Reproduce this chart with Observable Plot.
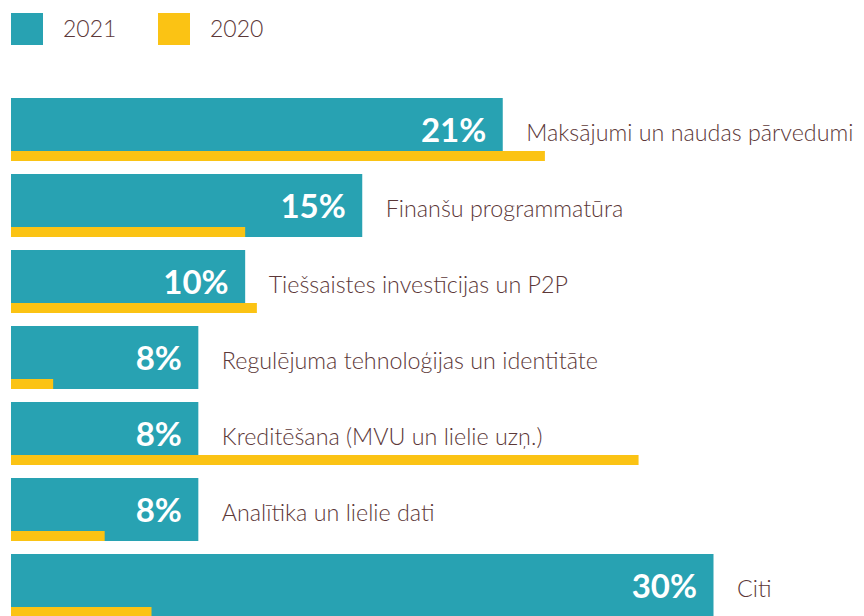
<!DOCTYPE html>
<html>
<head>
<meta charset="utf-8">
<script src="https://cdn.jsdelivr.net/npm/d3@7"></script>
<script src="https://cdn.jsdelivr.net/npm/@observablehq/plot@0.6"></script>
<style>
  html, body { margin: 0; padding: 0; background: #fff; overflow: hidden; }
  #legend { position: relative; height: 60px; width: 864px; font-family: Lato, "Open Sans", sans-serif; }
  .sw { position: absolute; top: 13px; width: 32px; height: 32px; }
  .lt { position: absolute; top: 14px; font-size: 23px; line-height: 28px; color: #5c3838; font-weight: 300; }
</style>
</head>
<body>
<div id="legend"></div>
<div id="chart"></div>
<script>
const categories = [
  "Maksājumi un naudas pārvedumi",
  "Finanšu programmatūra",
  "Tiešsaistes investīcijas un P2P",
  "Regulējuma tehnoloģijas un identitāte",
  "Kreditēšana (MVU un lielie uzņ.)",
  "Analītika un lielie dati",
  "Citi"
];
const values2021 = [21, 15, 10, 8, 8, 8, 30];
const values2020 = [22.8, 10, 10.5, 1.8, 26.8, 4, 6];
const seriesNames = ["2021", "2020"];
const colors = ["#28a2b2", "#fbc314"];

const data = categories.map((c, i) => ({cat: c, v2021: values2021[i], v2020: values2020[i]}));

// legend
const legend = document.getElementById("legend");
const swX = [11, 158], txX = [63, 210];
seriesNames.forEach((s, i) => {
  const sw = document.createElement("div");
  sw.className = "sw"; sw.style.left = swX[i] + "px"; sw.style.background = colors[i];
  legend.appendChild(sw);
  const t = document.createElement("div");
  t.className = "lt"; t.style.left = txX[i] + "px"; t.textContent = s;
  legend.appendChild(t);
});

const chart = Plot.plot({
  width: 864,
  height: 557,
  marginTop: 38,
  marginBottom: 0,
  marginLeft: 11,
  marginRight: 10,
  style: {fontFamily: "Lato, 'Open Sans', sans-serif", background: "white", overflow: "visible"},
  x: {domain: [0, 36], axis: null},
  y: {domain: categories, axis: null, paddingInner: 13 / 76, paddingOuter: 0},
  marks: [
    Plot.barX(data, {x: "v2021", y: "cat", fill: colors[0]}),
    Plot.barX(data, {x: "v2020", y: "cat", fill: colors[1], insetTop: 53}),
    Plot.text(data, {
      x: "v2021", y: "cat", text: d => d.v2021 + "%",
      textAnchor: "end", dx: -17, dy: 1,
      fill: "white", fontSize: 33, fontWeight: 700
    }),
    Plot.text(data, {
      x: "v2021", y: "cat", text: "cat",
      textAnchor: "start", dx: 23, dy: 3.8,
      fill: "#5c3838", fontSize: 23.3, fontWeight: 300
    })
  ]
});
document.getElementById("chart").appendChild(chart);
</script>
</body>
</html>
